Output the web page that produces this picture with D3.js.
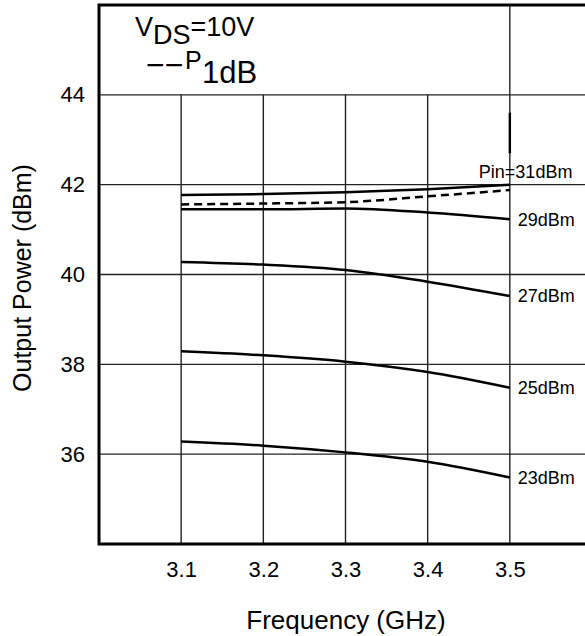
<!DOCTYPE html>
<html>
<head>
<meta charset="utf-8">
<script src="https://cdn.jsdelivr.net/npm/d3@7"></script>
<style>
  body { margin: 0; background: #fff; }
  text { font-family: "Liberation Sans", Arial, Helvetica, sans-serif; fill: #000; }
</style>
</head>
<body>
<svg id="chart" width="585" height="636"></svg>
<script>
// Frequency points (GHz)
const freqs = [3.1, 3.2, 3.3, 3.4, 3.5];

// Output power (dBm) per input power
const pin31 = [41.77, 41.79, 41.83, 41.90, 42.00];
const p1dB  = [41.56, 41.58, 41.61, 41.74, 41.88];
const pin29 = [41.45, 41.45, 41.47, 41.38, 41.23];
const pin27 = [40.28, 40.22, 40.10, 39.84, 39.52];
const pin25 = [38.29, 38.20, 38.06, 37.83, 37.48];
const pin23 = [36.28, 36.19, 36.04, 35.83, 35.48];

const curveNames = ["Pin=31dBm", "29dBm", "27dBm", "25dBm", "23dBm"];

const xTicks = [3.1, 3.2, 3.3, 3.4, 3.5];
const yTicks = [36, 38, 40, 42, 44];

const svg = d3.select("#chart");

const x = d3.scaleLinear().domain([3.0, 3.6]).range([99, 592]);
const y = d3.scaleLinear().domain([34, 46]).range([544, 5]);

/**
 * Grid lines
 */
const grid = svg.append("g").attr("stroke", "#222").attr("stroke-width", 1.4);

grid.selectAll(".hgrid").data(yTicks).enter().append("line")
  .attr("x1", x(3.0)).attr("x2", x(3.6))
  .attr("y1", d => y(d)).attr("y2", d => y(d));

// the last column runs up through the legend box
grid.selectAll(".vgrid").data(xTicks).enter().append("line")
  .attr("x1", d => x(d)).attr("x2", d => x(d))
  .attr("y1", d => d === 3.5 ? y(46) : y(44))
  .attr("y2", y(34));

// small leader mark above the top curve
svg.append("line")
  .attr("x1", x(3.5)).attr("x2", x(3.5))
  .attr("y1", y(43.6)).attr("y2", y(42.7))
  .attr("stroke", "#000").attr("stroke-width", 2.4);

/**
 * Frame (left, top, bottom; right side runs off the picture)
 */
svg.append("path")
  .attr("d", "M" + x(3.6) + "," + y(46) + "H" + x(3.0) + "V" + y(34) + "H" + x(3.6))
  .attr("fill", "none").attr("stroke", "#000").attr("stroke-width", 3);

/**
 * Curves
 */
const line = d3.line()
  .x((d, i) => x(freqs[i]))
  .y(d => y(d))
  .curve(d3.curveMonotoneX);

const solid = [pin31, pin29, pin27, pin25, pin23];

svg.selectAll(".curve").data(solid).enter().append("path")
  .attr("class", "curve")
  .attr("d", line)
  .attr("fill", "none").attr("stroke", "#000").attr("stroke-width", 2.5);

svg.append("path")
  .attr("d", line(p1dB))
  .attr("fill", "none").attr("stroke", "#000").attr("stroke-width", 2.5)
  .attr("stroke-dasharray", "8,5");

/**
 * Curve labels
 */
svg.selectAll(".clabel").data(solid).enter().append("text")
  .attr("class", "clabel")
  .attr("x", (d, i) => i === 0 ? x(3.5) - 31 : x(3.5) + 8)
  .attr("y", (d, i) => i === 0 ? y(d[4]) - 13 : y(d[4]))
  .attr("dy", "0.35em")
  .attr("font-size", 18)
  .text((d, i) => curveNames[i]);

/**
 * Axes
 */
const xAxis = svg.append("g")
  .attr("transform", "translate(0," + (y(34) + 14) + ")")
  .call(d3.axisBottom(x).tickValues(xTicks).tickSize(0).tickFormat(d3.format(".1f")));
xAxis.select(".domain").remove();
xAxis.selectAll("text").attr("font-size", 22).attr("font-family", null);

const yAxis = svg.append("g")
  .attr("transform", "translate(" + (x(3.0) - 11) + ",0)")
  .call(d3.axisLeft(y).tickValues(yTicks).tickSize(0));
yAxis.select(".domain").remove();
yAxis.selectAll("text").attr("font-size", 22).attr("font-family", null);

svg.append("text")
  .attr("x", 346).attr("y", 629)
  .attr("text-anchor", "middle")
  .attr("font-size", 26)
  .text("Frequency (GHz)");

svg.append("text")
  .attr("transform", "translate(31," + 278 + ") rotate(-90)")
  .attr("text-anchor", "middle")
  .attr("font-size", 25)
  .text("Output Power (dBm)");

/**
 * Legend box text
 */
const l1 = svg.append("text").attr("x", 135).attr("y", 36).attr("font-size", 27);
l1.append("tspan").text("V");
l1.append("tspan").attr("dy", 8).text("DS");
l1.append("tspan").attr("dy", -8).text("=10V");

svg.append("text").attr("x", 146).attr("y", 76).attr("font-size", 32).text("−−");
svg.append("text").attr("x", 185).attr("y", 69).attr("font-size", 25).text("P");
svg.append("text").attr("x", 202).attr("y", 83).attr("font-size", 31).text("1dB");
</script>
</body>
</html>
